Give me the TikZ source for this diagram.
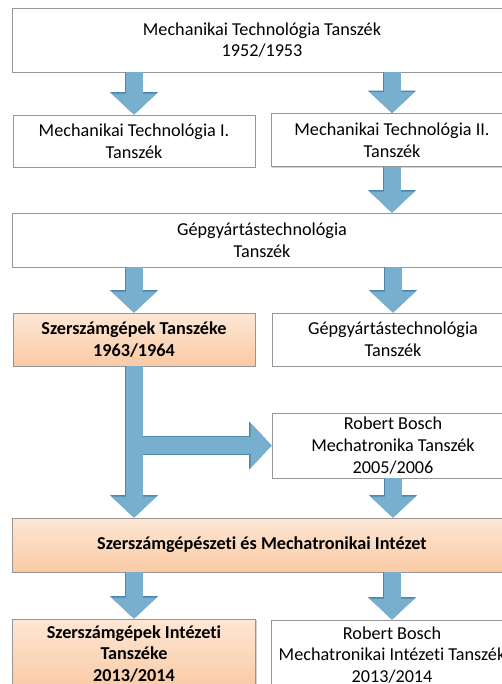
\documentclass[tikz,border=0pt]{standalone}
\usepackage{fontspec}
\setmainfont{Carlito}[Ligatures=NoCommon]
\usetikzlibrary{arrows.meta,shadows}

\definecolor{arrowfill}{RGB}{120,174,206}
\definecolor{arrowedge}{RGB}{78,134,172}
\definecolor{boxedge}{RGB}{150,150,150}
\definecolor{orangetop}{RGB}{253,231,213}
\definecolor{orangebot}{RGB}{250,202,164}

\tikzset{
	unit/.style={draw=boxedge, fill=white, line width=0.8pt, align=center,
		font=\fontsize{18.2}{21.6}\selectfont, inner sep=0pt,
		drop shadow={shadow xshift=1.2pt, shadow yshift=-1.2pt, opacity=.35}},
	hlunit/.style={unit, top color=orangetop, bottom color=orangebot,
		font=\fontsize{18.2}{21.6}\selectfont\bfseries},
	flow/.style={draw=arrowfill, line width=17pt,
		-{Triangle[length=21pt, width=45pt, line width=0pt]},
		preaction={draw=arrowedge, line width=18.6pt,
			-{Triangle[length=22.5pt, width=48pt, line width=0pt]}}}
}

\begin{document}
\begin{tikzpicture}[x=1pt, y=-1pt]
		\useasboundingbox (0,0) rectangle (502,684);
		\clip (0,0) rectangle (502,684);
		\fill[white] (0,0) rectangle (502,684);
		
		%departments
		\node[unit, minimum width=500pt, minimum height=64pt] (mt) at (262,40)
			{Mechanikai Technológia Tanszék\\1952/1953};
		\node[unit, minimum width=242pt, minimum height=52pt] (mt1) at (134,141)
			{Mechanikai Technológia I.\\Tanszék};
		\node[unit, minimum width=242pt, minimum height=53pt] (mt2) at (392,140)
			{Mechanikai Technológia II.\\Tanszék};
		\node[unit, minimum width=500pt, minimum height=54pt] (gy) at (262,240)
			{Gépgyártástechnológia\\Tanszék};
		\node[hlunit, minimum width=242pt, minimum height=53pt] (szg) at (134,339.5)
			{Szerszámgépek Tanszéke\\1963/1964};
		\node[unit, minimum width=242pt, minimum height=53pt] (gy2) at (393,339.5)
			{Gépgyártástechnológia\\Tanszék};
		\node[unit, minimum width=242pt, minimum height=65pt] (rb) at (393,445.5)
			{Robert Bosch\\Mechatronika Tanszék\\2005/2006};
		\node[hlunit, minimum width=500pt, minimum height=54pt] (smi) at (262,545)
			{Szerszámgépészeti és Mechatronikai Intézet};
		\node[hlunit, minimum width=243pt, minimum height=70pt] (szi) at (134,654)
			{Szerszámgépek Intézeti\\Tanszéke\\2013/2014};
		\node[unit, minimum width=242pt, minimum height=70pt] (rbi) at (392,655)
			{Robert Bosch\\Mechatronikai Intézeti Tanszék\\2013/2014};
		
		%arrows
		\draw[flow] (mt.south -| mt1.north) -- (mt1.north);
		\draw[flow] (mt.south -| mt2.north) -- (mt2.north);
		\draw[flow] (mt2.south) -- (gy.north -| mt2.south);
		\draw[flow] (gy.south -| szg.north) -- (szg.north);
		\draw[flow] (gy.south -| gy2.north) -- (gy2.north);
		\draw[flow] (szg.south |- rb.west) -- (rb.west);
		\draw[flow] (szg.south) -- (smi.north -| szg.south);
		\draw[flow] (rb.south) -- (smi.north -| rb.south);
		\draw[flow] (smi.south -| szi.north) -- (szi.north);
		\draw[flow] (smi.south -| rbi.north) -- (rbi.north);
		\end{tikzpicture}
\end{document}
